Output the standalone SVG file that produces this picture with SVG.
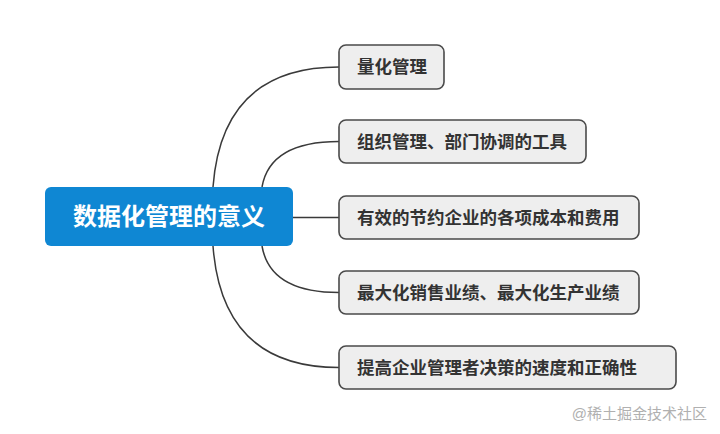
<svg xmlns="http://www.w3.org/2000/svg" width="720" height="434" viewBox="0 0 720 434">
  <style>
    .box { fill: #eeeeee; stroke: #4a4a4a; stroke-width: 1.6; }
    .lbl { font-family: "Liberation Sans", "Noto Sans CJK SC", sans-serif; font-size: 17.5px; font-weight: bold; fill: #333333; dominant-baseline: central; }
    .conn { fill: none; stroke: #3a3a3a; stroke-width: 1.5; }
  </style>
  <rect x="0" y="0" width="720" height="434" fill="#ffffff"/>
  <g id="connectors">
    <path class="conn" d="M213,187 Q222,67 339,67"/>
    <path class="conn" d="M262,187 Q270,141.5 339,141.5"/>
    <path class="conn" d="M293,217.5 L339,217.5"/>
    <path class="conn" d="M262,246 Q270,292.5 339,292.5"/>
    <path class="conn" d="M213,246 Q222,367.5 339,367.5"/>
  </g>
  <g id="root">
    <rect x="45" y="187" width="248" height="59" rx="6" fill="#0f87d3"/>
    <text x="169" y="216.5" text-anchor="middle" font-family="Liberation Sans, 'Noto Sans CJK SC', sans-serif" font-size="24" font-weight="bold" fill="#ffffff" dominant-baseline="central">数据化管理的意义</text>
  </g>
  <g id="n1">
    <rect class="box" x="339" y="45" width="105" height="44" rx="7"/>
    <text class="lbl" x="357" y="67">量化管理</text>
  </g>
  <g id="n2">
    <rect class="box" x="339" y="120" width="247" height="43" rx="7"/>
    <text class="lbl" x="357" y="141.5">组织管理、部门协调的工具</text>
  </g>
  <g id="n3">
    <rect class="box" x="339" y="196" width="300" height="43" rx="7"/>
    <text class="lbl" x="357" y="217.5">有效的节约企业的各项成本和费用</text>
  </g>
  <g id="n4">
    <rect class="box" x="339" y="271" width="300" height="43" rx="7"/>
    <text class="lbl" x="357" y="292.5">最大化销售业绩、最大化生产业绩</text>
  </g>
  <g id="n5">
    <rect class="box" x="339" y="346" width="337" height="43" rx="7"/>
    <text class="lbl" x="357" y="367.5">提高企业管理者决策的速度和正确性</text>
  </g>
  <text x="707" y="413" text-anchor="end" font-family="Liberation Sans, 'Noto Sans CJK SC', sans-serif" font-size="15" fill="#b0b0b0" dominant-baseline="central">@稀土掘金技术社区</text>
</svg>
